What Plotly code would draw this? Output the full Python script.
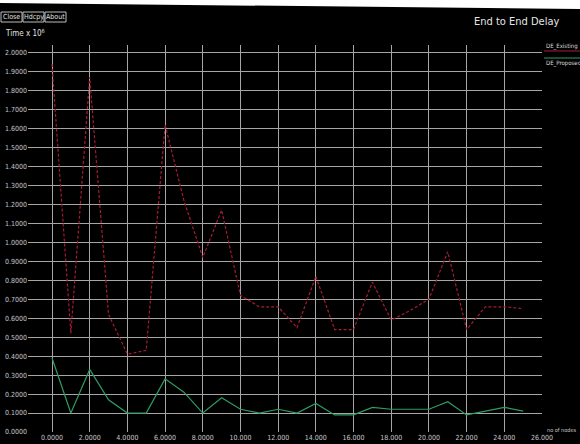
import plotly.graph_objects as go

# ---- data ----
nodes = list(range(26))
de_existing = [1.94, 0.52, 1.87, 0.62, 0.41, 0.43, 1.62, 1.22, 0.92, 1.17,
               0.72, 0.66, 0.66, 0.55, 0.82, 0.54, 0.54, 0.79, 0.59, 0.64,
               0.70, 0.95, 0.54, 0.66, 0.66, 0.65]
de_proposed = [0.39, 0.10, 0.33, 0.17, 0.10, 0.10, 0.28, 0.21, 0.10, 0.18,
               0.12, 0.10, 0.12, 0.10, 0.15, 0.09, 0.09, 0.13, 0.12, 0.12,
               0.12, 0.16, 0.09, 0.11, 0.13, 0.11]
series_names = ["DE_Existing", "DE_Proposed"]
x_tickvals = list(range(0, 27, 2))
x_ticktext = [f"{v:.4f}" if v < 10 else f"{v:.3f}" for v in x_tickvals]
y_tickvals = [round(i * 0.1, 1) for i in range(21)]
y_ticktext = [f"{v:.4f}" for v in y_tickvals]

# ---- layout geometry (pixels) ----
W, H = 580, 444
L, R, T, B = 28, 38, 45, 12
PW, PH = W - L - R, H - T - B
X_PER_PX = 26 / (W - R - 52)          # x = 0 sits 24 px right of the plot's left edge

def px(xp):
    return (xp - L) / PW

def py(yp):
    return (H - B - yp) / PH

FONT = "Liberation Sans Narrow, DejaVu Sans Condensed, Liberation Sans, sans-serif"
RED = "#a51c33"
GREEN = "#2f9c62"
GRID = "#a6a6a6"
TEXT = "#c8c8c8"

fig = go.Figure()
fig.add_trace(go.Scatter(x=nodes, y=de_existing, mode="lines", name=series_names[0],
                         line=dict(color=RED, width=1.2, dash="3px,2px")))
fig.add_trace(go.Scatter(x=nodes, y=de_proposed, mode="lines", name=series_names[1],
                         line=dict(color=GREEN, width=1.2)))

shapes = []
annotations = []

# white strip along the top edge of the window
shapes.append(dict(type="path", xref="paper", yref="paper",
                   path=f"M {px(0)} {py(-2)} L {px(582)} {py(-2)} L {px(582)} {py(9)} L {px(0)} {py(3)} Z",
                   fillcolor="white", line=dict(width=0), layer="above"))

# window buttons
for label, (x0, x1) in zip(["Close", "Hdcpy", "About"], [(1, 22), (23, 44), (45, 66)]):
    shapes.append(dict(type="rect", xref="paper", yref="paper",
                       x0=px(x0), x1=px(x1), y0=py(22), y1=py(12),
                       line=dict(color="#bdbdbd", width=1), fillcolor="black"))
    annotations.append(dict(x=px((x0 + x1) / 2), y=py(17), xref="paper", yref="paper",
                            text=label, showarrow=False, xanchor="center", yanchor="middle",
                            font=dict(family=FONT, size=7, color="#e0e0e0")))

# y-axis unit label
annotations.append(dict(x=px(3), y=py(33), xref="paper", yref="paper",
                        text="Time x 10<sup>6</sup>", showarrow=False,
                        xanchor="left", yanchor="middle",
                        font=dict(family=FONT, size=8, color="#e0e0e0")))

# title
annotations.append(dict(x=px(517), y=py(22), xref="paper", yref="paper",
                        text="End to End Delay", showarrow=False,
                        xanchor="center", yanchor="middle",
                        font=dict(family=FONT, size=11, color="#e6e6e6")))

# x-axis label
annotations.append(dict(x=px(578), y=py(430), xref="paper", yref="paper",
                        text="no of nodes", showarrow=False,
                        xanchor="right", yanchor="middle",
                        font=dict(family=FONT, size=5.5, color=TEXT)))

# legend entries
for name, color, ty, ly in [(series_names[0], RED, 46, 51), (series_names[1], GREEN, 63, 58)]:
    shapes.append(dict(type="line", xref="paper", yref="paper",
                       x0=px(544), x1=px(581), y0=py(ly), y1=py(ly),
                       line=dict(color=color, width=1)))
    annotations.append(dict(x=px(544), y=py(ty), xref="paper", yref="paper",
                            text=name, showarrow=False, xanchor="left", yanchor="middle",
                            font=dict(family=FONT, size=6, color="#dcdcdc")))

fig.update_layout(
    width=W, height=H,
    margin=dict(l=L, r=R, t=T, b=B, pad=0, autoexpand=False),
    paper_bgcolor="black", plot_bgcolor="black",
    showlegend=False,
    shapes=shapes, annotations=annotations,
    xaxis=dict(range=[-24 * X_PER_PX, 26], tickvals=x_tickvals, ticktext=x_ticktext,
               showgrid=True, gridcolor=GRID, gridwidth=1, zeroline=False,
               showline=False, ticks="", tickangle=0, automargin=False,
               tickfont=dict(family=FONT, size=7, color=TEXT)),
    yaxis=dict(range=[0, 2.04], tickvals=y_tickvals, ticktext=y_ticktext,
               showgrid=True, gridcolor=GRID, gridwidth=1, zeroline=False,
               showline=False, ticks="", automargin=False,
               tickfont=dict(family=FONT, size=7, color=TEXT)),
)

fig.write_html("out.html")
